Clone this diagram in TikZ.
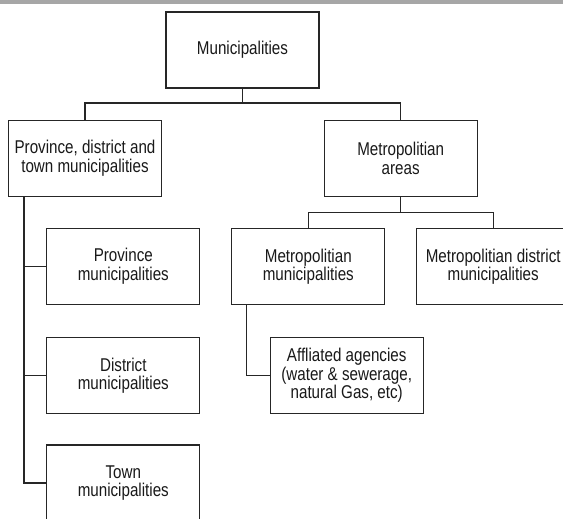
\documentclass[tikz,border=0pt]{standalone}
\usepackage{fontspec}
\newfontfamily\boxfont{Liberation Sans}[FakeStretch=0.82]
\usetikzlibrary{calc}
\tikzset{
  orgbox/.style={draw=black!85, line width=1.2pt, fill=white, minimum width=153pt, minimum height=76pt,
    inner sep=0pt, align=center, text=black!90, font=\boxfont\fontsize{18.5}{18.3}\selectfont},
  link/.style={draw=black!85, line width=1.2pt}
}

\begin{document}
\begin{tikzpicture}[x=1pt,y=-1pt]
			%%%%% FRAME %%%%%
			\useasboundingbox (0,0) rectangle (563,519);
			\clip (0,0) rectangle (563,519);
			\fill[white] (0,0) rectangle (563,519);
			\fill[black!35] (0,0.5) rectangle (563,4);
			
			%%%%% BOXES %%%%%
			\node[orgbox] (muni) at (242.5,50) {Municipalities};
			
			\node[orgbox] (pdt) at (85,158.3) {Province, district and\\town municipalities};
			\node[orgbox] (metro) at (400.7,158.3) {Metropolitian\\areas};
			
			\node[orgbox] (prov) at (123.3,266.3) {Province\\municipalities};
			\node[orgbox] (dist) at (123.3,375.5) {District\\municipalities};
			\node[orgbox] (town) at (123.3,483) {Town\\municipalities};
			
			\node[orgbox] (mmuni) at (308.3,266.5) {Metropolitian\\municipalities};
			\node[orgbox] (mdist) at (493.2,266.5) {Metropolitian district\\municipalities};
			\node[orgbox] (agency) at (346.7,375.5) {Affliated agencies\\(water \& sewerage,\\natural Gas, etc)};
			
			%%%%% LINKS %%%%%
			\coordinate (bus1) at ($(muni.south)+(0,14.5)$);
			\draw[link] (muni.south) -- (bus1);
			\draw[link] (pdt.north) |- (bus1) -| (metro.north);
			
			\coordinate (bus2) at ($(metro.south)+(0,15.5)$);
			\draw[link] (metro.south) -- (bus2);
			\draw[link] (mmuni.north) |- (bus2) -| (mdist.north);
			
			\coordinate (spine) at ($(pdt.south west)+(16,0)$);
			\draw[link] (spine) |- (town.west);
			\draw[link] (spine) |- (prov.west);
			\draw[link] (spine) |- (dist.west);
			
			\coordinate (stub) at ($(mmuni.south west)+(15.5,0)$);
			\draw[link] (stub) |- (agency.west);
			
			%%%%% END %%%%%
\end{tikzpicture}
\end{document}
